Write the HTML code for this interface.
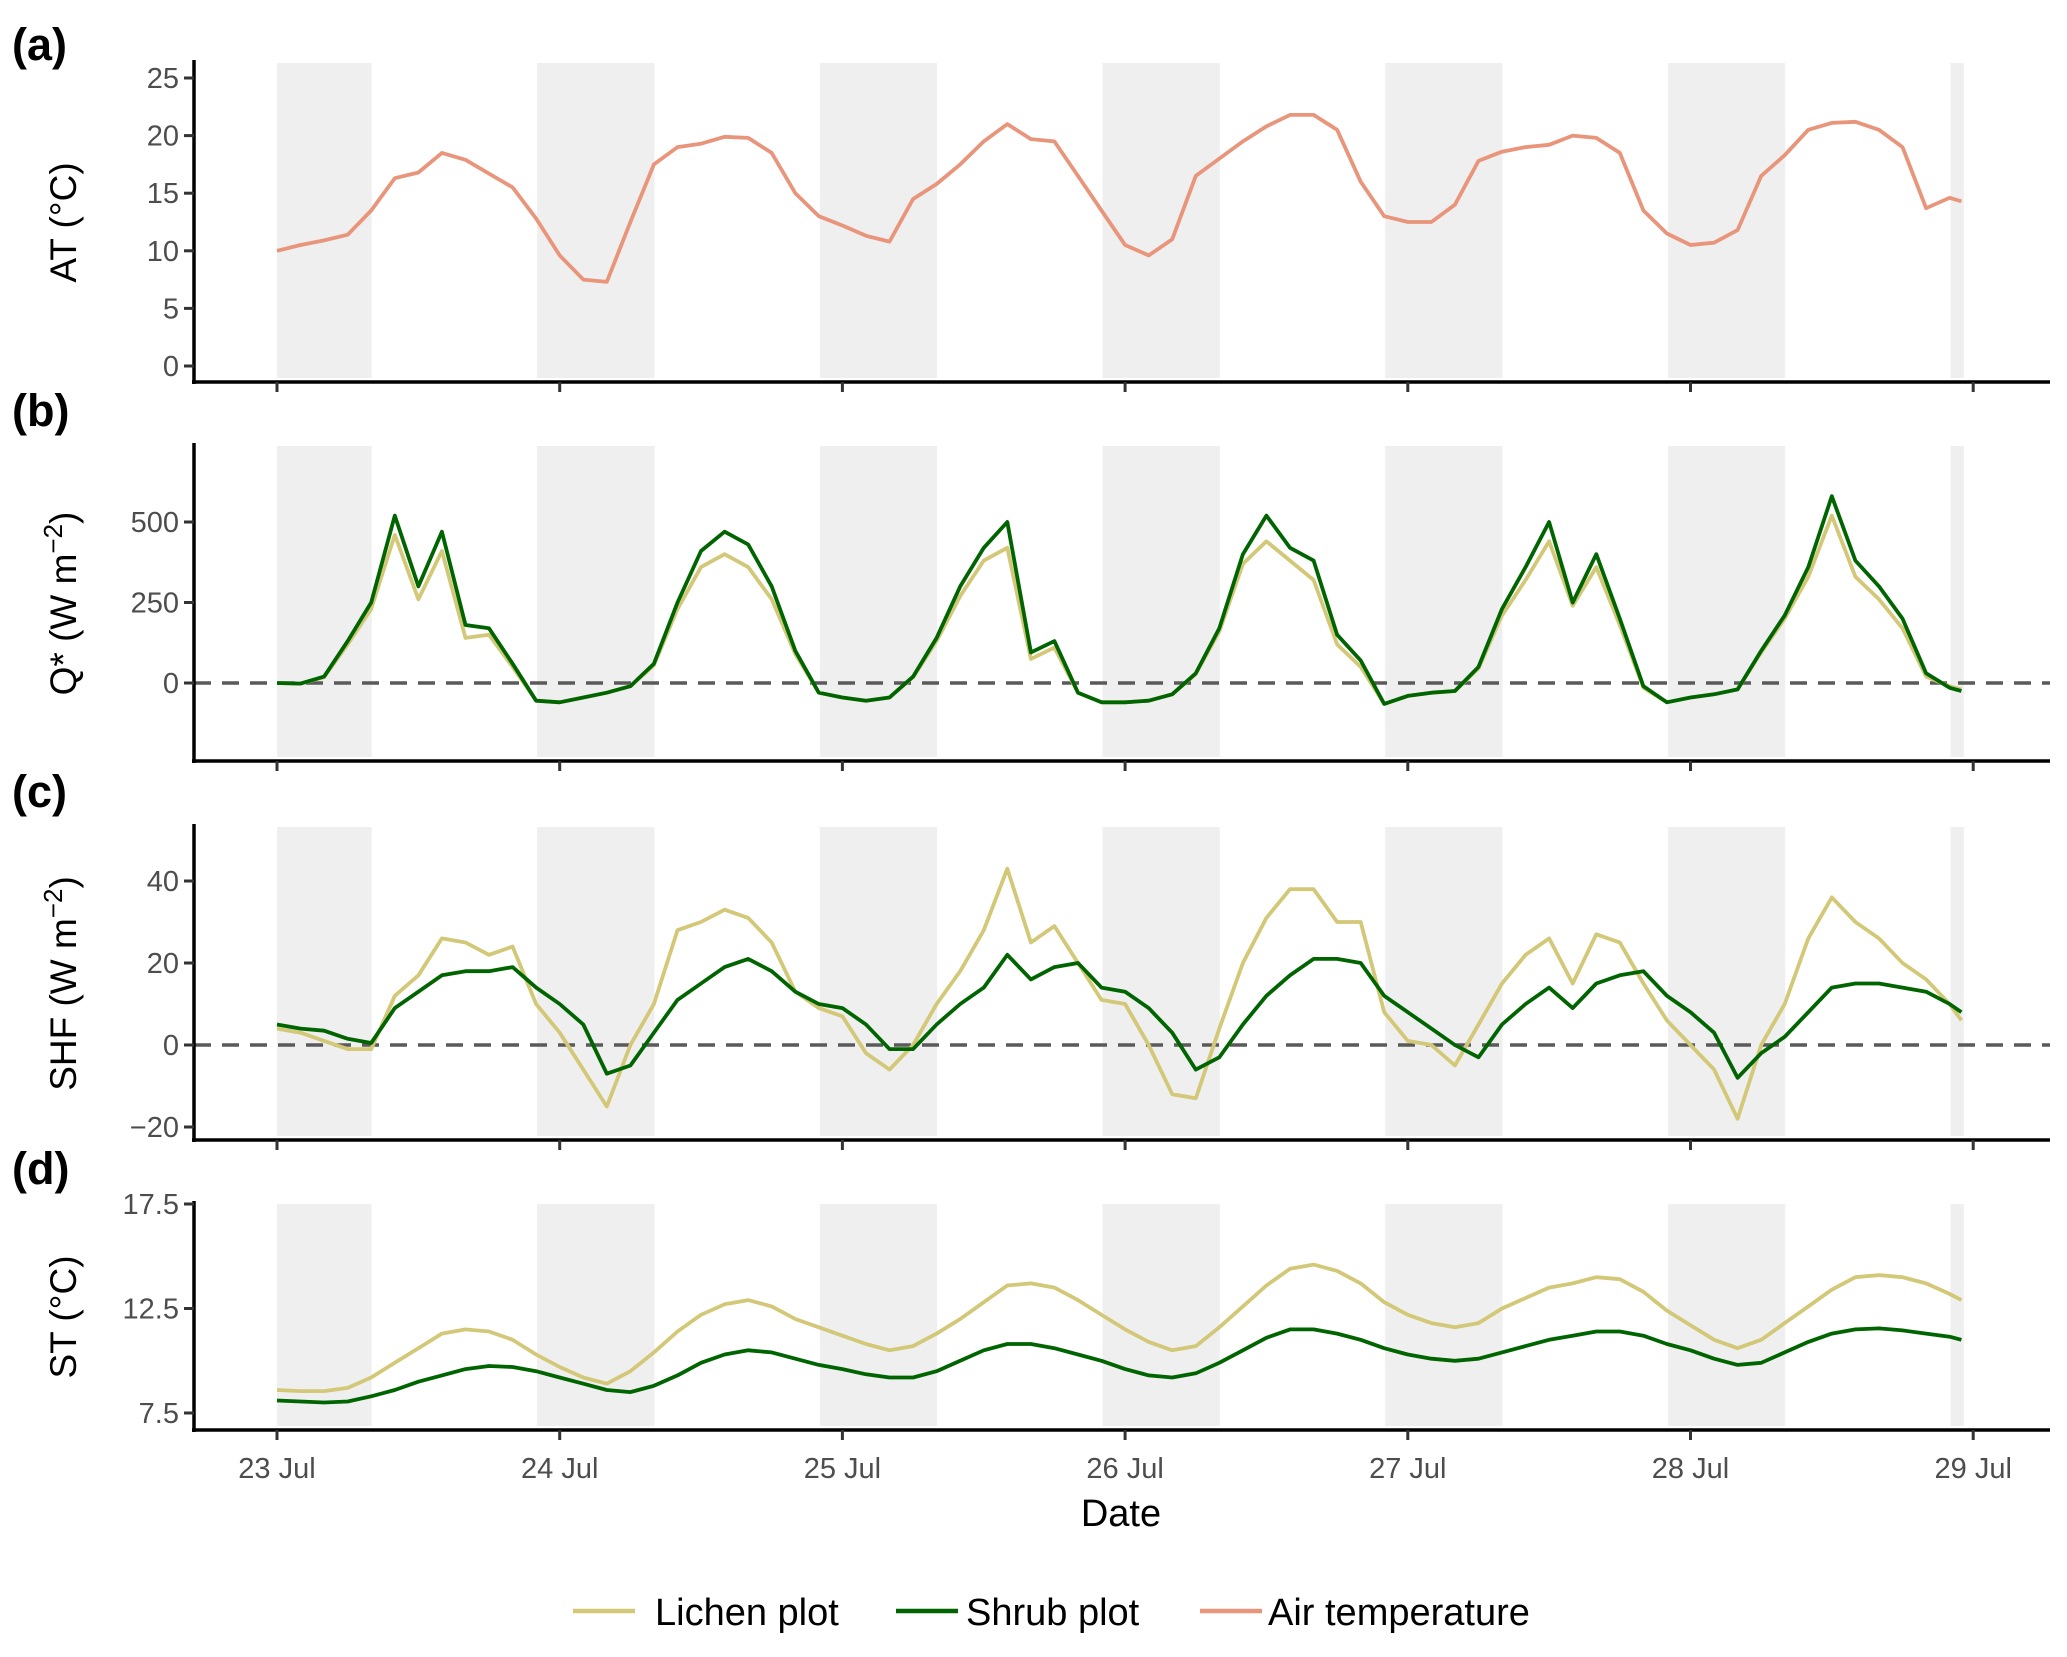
<!DOCTYPE html>
<html><head><meta charset="utf-8"><style>
body{margin:0;background:#fff;}
svg text{font-family:"Liberation Sans",Arial,sans-serif;}
</style></head><body>
<svg id="chart" width="2067" height="1652" viewBox="0 0 2067 1652" xmlns="http://www.w3.org/2000/svg">
<rect width="2067" height="1652" fill="#fff"/>
</svg>
<script>
const hours=[];for(let h=0;h<144;h+=2)hours.push(h);hours.push(143);
const xTickLabels=["23 Jul","24 Jul","25 Jul","26 Jul","27 Jul","28 Jul","29 Jul"];
const nightStart=[-0.08,0.92,1.92,2.92,3.92,4.92,5.92];
const nightEnd=[0.335,1.335,2.335,3.335,4.335,5.335,5.967];
const airTemp=[10,10.5,10.9,11.4,13.5,16.3,16.8,18.5,17.9,16.7,15.5,12.8,
9.6,7.5,7.3,12.5,17.5,19,19.3,19.9,19.8,18.5,15,13,
12.2,11.3,10.8,14.5,15.8,17.5,19.5,21,19.7,19.5,16.5,13.5,
10.5,9.6,11,16.5,18,19.5,20.8,21.8,21.8,20.5,16,13,
12.5,12.5,14,17.8,18.6,19,19.2,20,19.8,18.5,13.5,11.5,
10.5,10.7,11.8,16.5,18.3,20.5,21.1,21.2,20.5,19,13.7,14.6,14.3];
const qShrub=[0,-2,20,130,250,520,300,470,180,170,60,-55,
-60,-45,-30,-10,60,250,410,470,430,300,100,-30,
-45,-55,-45,20,140,300,420,500,95,130,-30,-60,
-60,-55,-35,30,170,400,520,420,380,150,70,-65,
-40,-30,-25,50,230,360,500,250,400,200,-10,-60,
-45,-35,-20,100,210,360,580,380,300,200,30,-15,-25];
const qLichen=[0,-2,18,120,230,460,260,410,140,150,50,-55,
-60,-45,-30,-10,55,230,360,400,360,260,90,-30,
-45,-55,-45,18,130,270,380,420,75,110,-30,-60,
-60,-55,-35,28,160,370,440,380,320,120,50,-65,
-40,-30,-25,45,210,320,440,240,360,180,-15,-60,
-45,-35,-20,95,200,330,520,330,260,170,20,-10,-20];
const shfLichen=[4,3,1,-1,-1,12,17,26,25,22,24,10,
3,-6,-15,0,10,28,30,33,31,25,13,9,
7,-2,-6,0,10,18,28,43,25,29,20,11,
10,0,-12,-13,4,20,31,38,38,30,30,8,
1,0,-5,5,15,22,26,15,27,25,15,6,
0,-6,-18,0,10,26,36,30,26,20,16,10,6];
const shfShrub=[5,4,3.5,1.5,0.5,9,13,17,18,18,19,14,
10,5,-7,-5,3,11,15,19,21,18,13,10,
9,5,-1,-1,5,10,14,22,16,19,20,14,
13,9,3,-6,-3,5,12,17,21,21,20,12,
8,4,0,-3,5,10,14,9,15,17,18,12,
8,3,-8,-2,2,8,14,15,15,14,13,10,8];
const stLichen=[8.6,8.55,8.55,8.7,9.2,9.9,10.6,11.3,11.5,11.4,11.0,10.3,
9.7,9.2,8.9,9.5,10.4,11.4,12.2,12.7,12.9,12.6,12.0,11.6,
11.2,10.8,10.5,10.7,11.3,12.0,12.8,13.6,13.7,13.5,12.9,12.2,
11.5,10.9,10.5,10.7,11.6,12.6,13.6,14.4,14.6,14.3,13.7,12.8,
12.2,11.8,11.6,11.8,12.5,13.0,13.5,13.7,14.0,13.9,13.3,12.4,
11.7,11.0,10.6,11.0,11.8,12.6,13.4,14.0,14.1,14.0,13.7,13.2,12.9];
const stShrub=[8.1,8.05,8.0,8.05,8.3,8.6,9.0,9.3,9.6,9.75,9.7,9.5,
9.2,8.9,8.6,8.5,8.8,9.3,9.9,10.3,10.5,10.4,10.1,9.8,
9.6,9.35,9.2,9.2,9.5,10.0,10.5,10.8,10.8,10.6,10.3,10.0,
9.6,9.3,9.2,9.4,9.9,10.5,11.1,11.5,11.5,11.3,11.0,10.6,
10.3,10.1,10.0,10.1,10.4,10.7,11.0,11.2,11.4,11.4,11.2,10.8,
10.5,10.1,9.8,9.9,10.4,10.9,11.3,11.5,11.55,11.45,11.3,11.15,11.0];
const atTicks=[0,5,10,15,20,25];
const qTicks=[0,250,500];
const shfTicks=[-20,0,20,40];
const stTicks=[7.5,12.5,17.5];

const NS="http://www.w3.org/2000/svg";
const svg=document.getElementById('chart');
const C_AT="#e8957b",C_L="#d2c877",C_S="#006400";
const X0=277,DAY=282.7,AX=194,AXR=2050;
function xd(d){return X0+d*DAY;}
function xh(h){return xd(h/24);}
function mk(tag,attrs,parent){const e=document.createElementNS(NS,tag);for(const k in attrs)e.setAttribute(k,attrs[k]);(parent||svg).appendChild(e);return e;}
const panels=[
 {id:'a',top:63,bot:382,v0:0,p0:366,v1:25,p1:78,ticks:atTicks,fmt:v=>String(v),title:'AT (°C)',zero:false,series:[[airTemp,C_AT,'air-temperature-line']]},
 {id:'b',top:446,bot:761,v0:0,p0:683,v1:500,p1:522,ticks:qTicks,fmt:v=>String(v),title:'Q* (W m',zero:true,series:[[qLichen,C_L,'lichen-qstar-line'],[qShrub,C_S,'shrub-qstar-line']]},
 {id:'c',top:827,bot:1140,v0:0,p0:1045,v1:40,p1:881,ticks:shfTicks,fmt:v=>v<0?'\u2212'+(-v):String(v),title:'SHF (W m',zero:true,series:[[shfLichen,C_L,'lichen-shf-line'],[shfShrub,C_S,'shrub-shf-line']]},
 {id:'d',top:1204,bot:1430,v0:7.5,p0:1413,v1:17.5,p1:1204,ticks:stTicks,fmt:v=>v.toFixed(1),title:'ST (°C)',zero:false,series:[[stLichen,C_L,'lichen-st-line'],[stShrub,C_S,'shrub-st-line']]}
];
panels.forEach(p=>{
 const y=v=>p.p0+(v-p.v0)*(p.p1-p.p0)/(p.v1-p.v0);
 const g=mk('g',{});
 
 
 for(let i=0;i<nightStart.length;i++){
  const a=Math.max(0,nightStart[i]),b=nightEnd[i];
  const r=mk('rect',{x:xd(a),y:p.top,width:xd(b)-xd(a),height:p.bot-4-p.top,fill:'#efefef'},g);
  
  
 }
 if(p.zero){
  const z=mk('line',{x1:AX,x2:AXR,y1:y(0),y2:y(0),stroke:'#5a5a5a','stroke-width':3.4,'stroke-dasharray':'17 11'},g);
  
  
 }
 p.series.forEach(s=>{
  const pts=s[0].map((v,i)=>xh(hours[i]).toFixed(1)+','+y(v).toFixed(1)).join(' ');
  const l=mk('polyline',{points:pts,fill:'none',stroke:s[1],'stroke-width':3.8,'stroke-linejoin':'round'},g);
  
  
 });
 const ya=mk('line',{x1:AX,x2:AX,y1:p.top-3,y2:p.bot+2,stroke:'#000','stroke-width':3.5},g);
 
 
 const xa=mk('line',{x1:AX-2,x2:AXR,y1:p.bot,y2:p.bot,stroke:'#000','stroke-width':3.5},g);
 
 
 p.ticks.forEach(t=>{
  const tl=mk('line',{x1:AX-10,x2:AX,y1:y(t),y2:y(t),stroke:'#333','stroke-width':3},g);
  
  
  const tx=mk('text',{x:AX-15,y:y(t)+10,'text-anchor':'end','font-size':29,fill:'#4d4d4d'},g);
  tx.textContent=p.fmt(t);
  
  
 });
 xTickLabels.forEach((lab,i)=>{
  const tl=mk('line',{x1:xd(i),x2:xd(i),y1:p.bot,y2:p.bot+10,stroke:'#333','stroke-width':3},g);
  
  
  if(p.id==='d'){
   const tx=mk('text',{x:xd(i),y:1478,'text-anchor':'middle','font-size':29,fill:'#4d4d4d'},g);
   tx.textContent=lab;
   
   
  }
 });
 const cy=(p.top+p.bot)/2;
 const tt=mk('text',{x:0,y:0,transform:`translate(76,${cy}) rotate(-90)`,'text-anchor':'middle','font-size':37,fill:'#000'},g);
 tt.textContent=p.title;
 if(p.id==='b'||p.id==='c'){
  const sup=mk('tspan',{dy:-14,'font-size':26},tt);sup.textContent='\u22122';
  const cl=mk('tspan',{dy:14},tt);cl.textContent=')';
 }
 
 
 const pl=mk('text',{x:12,y:p.id==='a'?60:p.top-20,'font-size':45,'font-weight':'bold',fill:'#000'},g);
 pl.textContent='('+p.id+')';
 
 
});
const dt=mk('text',{x:1121,y:1526,'text-anchor':'middle','font-size':38,fill:'#000'});
dt.textContent='Date';


const legendLabels=["Lichen plot","Shrub plot","Air temperature"];
const legendColors=[C_L,C_S,C_AT];
const legendX=[573,896,1200];
const legendTextX=[655,966,1268];
const lg=mk('g',{});


legendLabels.forEach((lab,i)=>{
 const e=mk('g',{},lg);
 
 
 mk('line',{x1:legendX[i],x2:legendX[i]+62,y1:1611,y2:1611,stroke:legendColors[i],'stroke-width':4.5},e);
 const t=mk('text',{x:legendTextX[i],y:1625,'font-size':38,fill:'#000'},e);
 t.textContent=lab;
});
</script>
</body></html>
